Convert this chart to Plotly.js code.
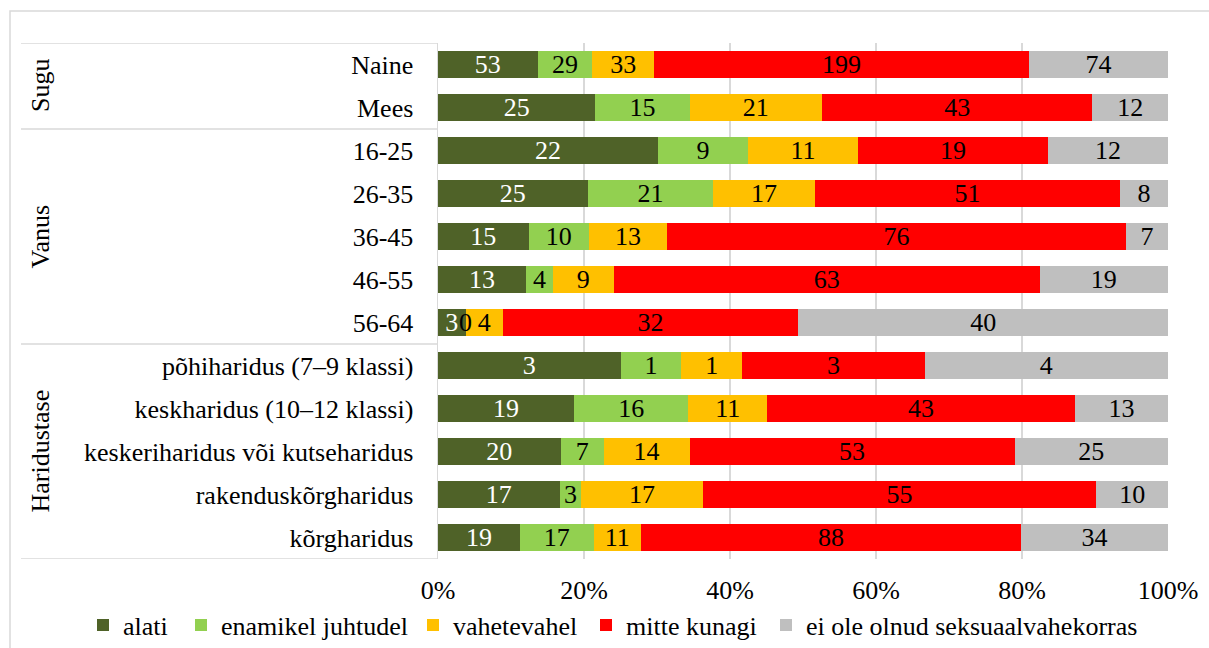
<!DOCTYPE html>
<html>
<head>
<meta charset="utf-8">
<script src="https://cdn.plot.ly/plotly-3.0.1.min.js"></script>
<style>html,body{margin:0;padding:0;background:#fff;}#chart{width:1209px;height:648px;}</style>
</head>
<body>
<div id="chart"></div>
<script>
const categories = ["Naine","Mees","16-25","26-35","36-45","46-55","56-64",
  "põhiharidus (7–9 klassi)","keskharidus (10–12 klassi)","keskeriharidus või kutseharidus",
  "rakenduskõrgharidus","kõrgharidus"];
const seriesNames = ["alati","enamikel juhtudel","vahetevahel","mitte kunagi","ei ole olnud seksuaalvahekorras"];
const alati        = [53,25,22,25,15,13,3,3,19,20,17,19];
const enamikel     = [29,15,9,21,10,4,0,1,16,7,3,17];
const vahetevahel  = [33,21,11,17,13,9,4,1,11,14,17,11];
const mitteKunagi  = [199,43,19,51,76,63,32,3,43,53,55,88];
const eiOle        = [74,12,12,8,7,19,40,4,13,25,10,34];
const groups = ["Sugu","Vanus","Haridustase"];
const groupStart = [0,2,7];
const groupEnd = [1,6,11];
const xTicks = [0,20,40,60,80,100];

const colors = ["#4F6228","#92D050","#FFC000","#FF0000","#BFBFBF"];
const textColors = ["#FFFFFF","#000000","#000000","#000000","#000000"];
const allSeries = [alati,enamikel,vahetevahel,mitteKunagi,eiOle];
const FONT = "Liberation Serif";
const FS = 26;
const legendIds = ["legend","legend2","legend3","legend4","legend5"];
const legendLeftPx = [83,181,413,586,766];

const traces = allSeries.map((vals,i)=>({
  type:"bar", orientation:"h", name:seriesNames[i], legend:legendIds[i],
  y:categories, x:vals, text:vals.map(String),
  textposition:"inside", insidetextanchor:"middle", textangle:0,
  constraintext:"none", cliponaxis:false,
  insidetextfont:{family:FONT,size:FS,color:textColors[i]},
  marker:{color:colors[i],line:{width:0}},
  hoverinfo:"skip"
}));

const W=1209, H=648, L=438, plotW=730;
const px2paperX = p => (p-L)/plotW;
const shapes = [];
shapes.push({type:"rect",xref:"paper",yref:"paper",x0:px2paperX(10),x1:1.2,y0:-0.4,y1:(559-11)/516,
  line:{color:"#D9D9D9",width:1.5},layer:"below"});
const bounds = [-0.5];
groupEnd.forEach(e=>bounds.push(e+0.5));
bounds.forEach(b=>shapes.push({type:"line",xref:"paper",yref:"y",x0:px2paperX(21),x1:0,y0:b,y1:b,
  line:{color:"#D9D9D9",width:1.5}}));
const annotations = groups.map((g,i)=>({
  text:g, xref:"paper", yref:"y", x:px2paperX(40), y:(groupStart[i]+groupEnd[i])/2,
  textangle:-90, showarrow:false, font:{family:FONT,size:FS,color:"#000"},
  xanchor:"center", yanchor:"middle"
}));
// labels for zero-width segments, positioned from the data
categories.forEach((c,j)=>{
  const total = allSeries.reduce((s,a)=>s+a[j],0);
  let cum = 0;
  allSeries.forEach((a,i)=>{
    if(a[j]===0){
      annotations.push({text:"0",xref:"x",yref:"y",x:cum/total*100,y:c,showarrow:false,
        font:{family:FONT,size:FS,color:"#000"},xanchor:"center",yanchor:"middle"});
    }
    cum += a[j];
  });
});

const layout = {
  width:W, height:H,
  margin:{l:438,r:41,t:43,b:89,pad:0},
  paper_bgcolor:"#fff", plot_bgcolor:"#fff",
  barmode:"stack", barnorm:"percent", bargap:0.35,
  showlegend:true,
  xaxis:{range:[0,100.0001],autorange:false,tickvals:xTicks,ticktext:xTicks.map(v=>v+"%"),showgrid:true,gridcolor:"#D9D9D9",gridwidth:1.5,
    zeroline:false,showline:false,ticks:"",ticklabelstandoff:13,
    tickfont:{family:FONT,size:FS,color:"#000"},fixedrange:true},
  yaxis:{type:"category",categoryorder:"array",categoryarray:categories,range:[11.5,-0.5],
    showline:true,linecolor:"#D9D9D9",linewidth:1.5,showgrid:false,zeroline:false,ticks:"",
    ticklabelstandoff:18,tickfont:{family:FONT,size:FS,color:"#000"},fixedrange:true},
  shapes:shapes, annotations:annotations, font:{family:FONT}
};
legendIds.forEach((id,i)=>{
  layout[id] = {orientation:"h",xref:"container",yref:"container",x:legendLeftPx[i]/W,xanchor:"left",
    y:(H-625)/H,yanchor:"middle",bgcolor:"rgba(0,0,0,0)",
    font:{family:FONT,size:FS,color:"#000"},itemwidth:30};
});
Plotly.newPlot("chart",traces,layout,{displayModeBar:false,staticPlot:true});
</script>
</body>
</html>
